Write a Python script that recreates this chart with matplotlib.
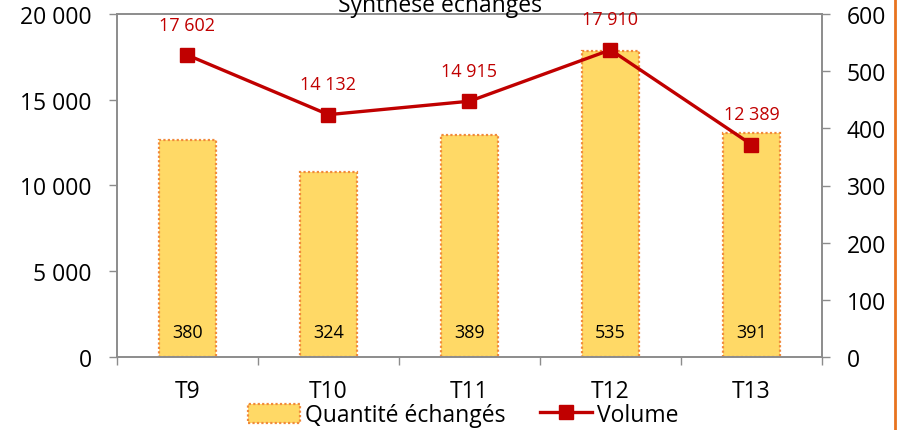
import matplotlib
matplotlib.use("Agg")
import matplotlib.pyplot as plt
from matplotlib.lines import Line2D
import numpy as np

plt.rcParams['font.family'] = ['Open Sans', 'DejaVu Sans']

categories = ["T9", "T10", "T11", "T12", "T13"]
volume = [17602, 14132, 14915, 17910, 12389]
quantite = [380, 324, 389, 535, 391]

left_ticks = [0, 5000, 10000, 15000, 20000]
left_labels = ["0", "5 000", "10 000", "15 000", "20 000"]
right_ticks = [0, 100, 200, 300, 400, 500, 600]

BAR_FACE = "#FFD966"
BAR_EDGE = "#F08A3C"
LINE_COL = "#C00000"
AXIS_COL = "#8C8C8C"

fig = plt.figure(figsize=(9.04, 4.31), dpi=100)
ax = fig.add_axes([117/904, 1 - 358/431, (822 - 117)/904, (358 - 15)/431])
ax2 = ax.twinx()

x = np.arange(len(categories))

# bars on secondary axis, line on primary axis
ax2.bar(x, quantite, width=0.41, color=BAR_FACE, edgecolor=BAR_EDGE,
        linewidth=1.6, linestyle=(0, (1, 1)), zorder=1)
for xi, q in zip(x, quantite):
    ax2.text(xi, 43, f"{q}", ha="center", va="center", fontsize=13, color="black")

ax.set_zorder(ax2.get_zorder() + 1)
ax.patch.set_visible(False)
ax.plot(x, volume, color=LINE_COL, linewidth=2.4, marker="s", markersize=10,
        zorder=3)
for xi, v in zip(x, volume):
    ax.annotate(f"{v:,}".replace(",", " "), (xi, v), xytext=(0, 22),
                textcoords="offset points", ha="center", va="center",
                fontsize=13, color=LINE_COL)

ax.set_xlim(-0.5, len(categories) - 0.5)
ax.set_ylim(0, 20000)
ax2.set_ylim(0, 600)

ax.set_yticks(left_ticks)
ax.set_yticklabels(left_labels)
ax2.set_yticks(right_ticks)

# category labels centred, tick marks between categories
ax.set_xticks(np.arange(-0.5, len(categories), 1.0))
ax.set_xticklabels([""] * (len(categories) + 1))
ax.set_xticks(x, minor=True)
ax.set_xticklabels(categories, minor=True)
ax.tick_params(axis="x", which="major", direction="out", length=6,
               color=AXIS_COL, width=1)
ax.tick_params(axis="x", which="minor", length=0, pad=16, labelsize=16.5)
ax.tick_params(axis="y", direction="out", length=6, color=AXIS_COL,
               width=1, pad=12, labelsize=16.5)
ax2.tick_params(axis="y", direction="out", length=6, color=AXIS_COL,
                width=1, pad=12, labelsize=16.5)
ax2.tick_params(axis="x", length=0)

for a in (ax, ax2):
    for s in a.spines.values():
        s.set_color(AXIS_COL)
        s.set_linewidth(1.2)

fig.text(440/904, 1 - 12.5/431, "Synthèse échangés", ha="center",
         va="baseline", fontsize=16.5)

handles = [
    plt.Rectangle((0, 0), 1, 1, facecolor=BAR_FACE, edgecolor=BAR_EDGE,
                  linewidth=1.6, linestyle=(0, (1, 1))),
    Line2D([0], [0], color=LINE_COL, linewidth=2.4, marker="s", markersize=10),
]
fig.legend(handles, ["Quantité échangés", "Volume"], loc="center",
           bbox_to_anchor=(463/904, 1 - 416/431), ncol=2, frameon=False,
           fontsize=16.5, handlelength=2.3, handleheight=0.9, handletextpad=0.2,
           columnspacing=1.5, borderpad=0)

fig.add_artist(Line2D([895/904, 895/904], [0, 1], transform=fig.transFigure,
                      color="#E8731E", linewidth=2))

fig.savefig("out.png", dpi=100)
